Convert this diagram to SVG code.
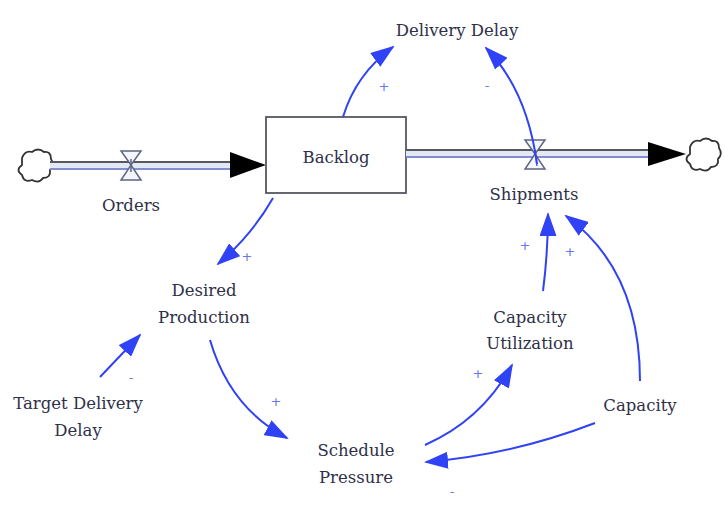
<svg xmlns="http://www.w3.org/2000/svg" width="725" height="519" viewBox="0 0 725 519">
  <style>
    .lbl { font-family: "DejaVu Serif", serif; font-size: 16.5px; fill: #2e3048; text-anchor: middle; }
    .sign { font-family: "DejaVu Sans", sans-serif; font-size: 13px; fill: #6677ee; text-anchor: middle; }
    .link { fill: none; stroke: #2f42f5; stroke-width: 2; marker-end: url(#head); }
    .pipeTop { stroke: #55585f; stroke-width: 2; }
    .pipeBot { stroke: #7f8fcf; stroke-width: 2; }
    .valve { fill: #f4f6fb; stroke: #5c6480; stroke-width: 1.5; }
    .cloud { fill: #ffffff; stroke: #333333; stroke-width: 1.8; }
  </style>
  <defs>
    <marker id="head" viewBox="0 0 24 17" refX="22" refY="8.5" markerWidth="24" markerHeight="17" markerUnits="userSpaceOnUse" orient="auto">
      <path d="M0,0 L24,8.5 L0,17 z" fill="#2f42f5"/>
    </marker>
  </defs>
  <rect width="725" height="519" fill="#ffffff"/>

  <!-- inflow: source cloud, pipe, valve -->
  <g id="orders">
    <path class="cloud" d="M22,158 q3,-8 10,-6 q6,-5 12,0 q7,-1 7,7 q4,6 -1,11 q1,8 -7,8 q-4,6 -11,2 q-8,3 -10,-5 q-7,-5 0,-10 z"/>
    <rect x="50" y="162" width="182" height="7" fill="#e3e8f4"/>
    <line class="pipeTop" x1="50" y1="162" x2="232" y2="162"/>
    <line class="pipeBot" x1="50" y1="169" x2="232" y2="169"/>
    <path d="M230,152 L266,165 L230,178 z" fill="#000000"/>
    <path class="valve" d="M121,151 L141,151 L131,165 z M121,180 L141,180 L131,165 z"/>
    <line x1="131" y1="159" x2="131" y2="172" stroke="#5c6480" stroke-width="1.5"/>
    <text class="lbl" x="131" y="211">Orders</text>
  </g>

  <!-- stock -->
  <g id="backlog">
    <rect x="266" y="117" width="140" height="76" fill="#ffffff" stroke="#55585f" stroke-width="1.8"/>
    <text class="lbl" x="336" y="163">Backlog</text>
  </g>

  <!-- outflow: pipe, valve, sink cloud -->
  <g id="shipments">
    <rect x="406" y="150" width="244" height="7" fill="#e3e8f4"/>
    <line class="pipeTop" x1="406" y1="150" x2="650" y2="150"/>
    <line class="pipeBot" x1="406" y1="157" x2="650" y2="157"/>
    <path d="M648,142 L686,154 L648,166 z" fill="#000000"/>
    <path class="cloud" d="M690,147 q3,-8 10,-6 q6,-5 12,0 q7,-1 7,7 q4,6 -1,11 q1,8 -7,8 q-4,6 -11,2 q-8,3 -10,-5 q-7,-5 0,-10 z"/>
    <path class="valve" d="M525,140 L545,140 L535,154 z M525,169 L545,169 L535,154 z"/>
    <text class="lbl" x="534" y="200">Shipments</text>
  </g>

  <g id="delivery-delay"><text class="lbl" x="457" y="36">Delivery Delay</text></g>
  <g id="desired-production">
    <text class="lbl" x="204" y="296">Desired</text>
    <text class="lbl" x="204" y="323">Production</text>
  </g>
  <g id="target-delivery-delay">
    <text class="lbl" x="78" y="409">Target Delivery</text>
    <text class="lbl" x="78" y="436">Delay</text>
  </g>
  <g id="schedule-pressure">
    <text class="lbl" x="356" y="456">Schedule</text>
    <text class="lbl" x="356" y="483">Pressure</text>
  </g>
  <g id="capacity-utilization">
    <text class="lbl" x="530" y="323">Capacity</text>
    <text class="lbl" x="530" y="349">Utilization</text>
  </g>
  <g id="capacity"><text class="lbl" x="640" y="411">Capacity</text></g>

  <!-- causal links with polarity -->
  <g id="links">
    <path class="link" d="M343,117 Q356,74 393,47"/>
    <text class="sign" x="384" y="91">+</text>
    <path class="link" d="M537,164 Q527,90 486,48"/>
    <line x1="535" y1="150" x2="537" y2="166" stroke="#2f42f5" stroke-width="1.2"/>
    <text class="sign" x="487" y="90">-</text>
    <path class="link" d="M273,198 Q252,235 218,264"/>
    <text class="sign" x="247" y="261">+</text>
    <path class="link" d="M100,377 L140,335"/>
    <text class="sign" x="131" y="382">-</text>
    <path class="link" d="M210,340 Q230,408 287,438"/>
    <text class="sign" x="276" y="406">+</text>
    <path class="link" d="M425,445 Q482,420 512,365"/>
    <text class="sign" x="478" y="378">+</text>
    <path class="link" d="M543,291 Q548,252 548,214"/>
    <text class="sign" x="525" y="250">+</text>
    <path class="link" d="M640,381 Q640,270 566,216"/>
    <text class="sign" x="570" y="256">+</text>
    <path class="link" d="M595,423 Q512,455 426,462"/>
    <text class="sign" x="452" y="496">-</text>
  </g>
</svg>
